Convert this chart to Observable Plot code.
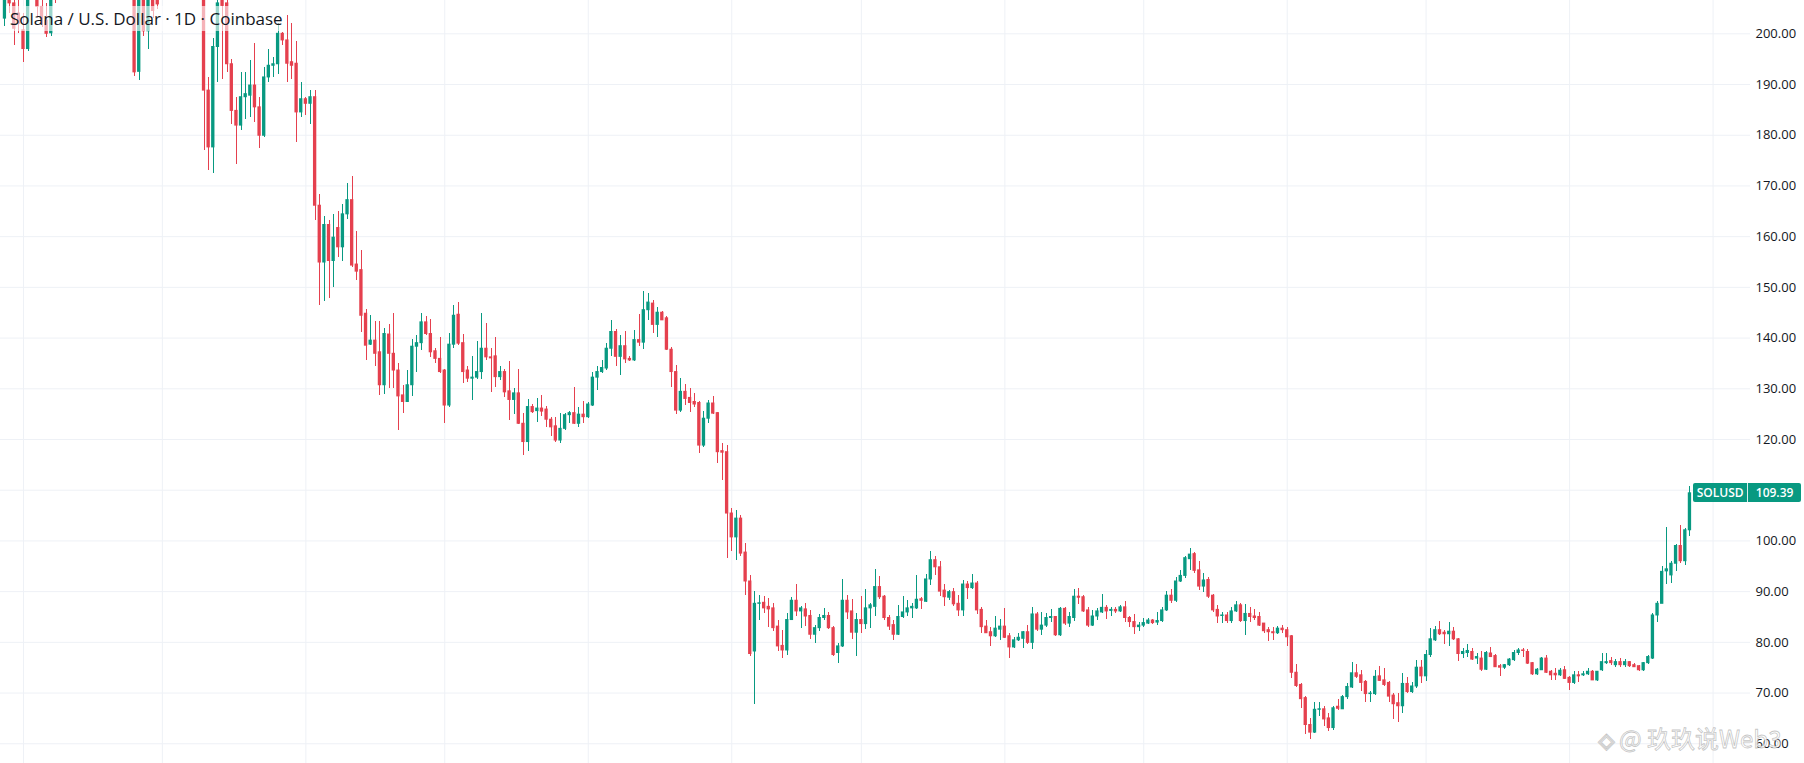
<!DOCTYPE html>
<html>
<head>
<meta charset="utf-8">
<script src="https://cdn.jsdelivr.net/npm/d3@7"></script>
<script src="https://cdn.jsdelivr.net/npm/@observablehq/plot@0.6"></script>
<style>
  html, body { margin: 0; padding: 0; background: #fff; }
  #wrap { position: relative; width: 1804px; height: 763px; overflow: hidden; }
  #title { position: absolute; left: 6px; top: 6px; padding: 0 4px; font: 17px "Open Sans", sans-serif; line-height: 25px; color: #131722; background: rgba(255,255,255,0.6); white-space: nowrap; }
  .lastbox { position: absolute; height: 19px; display: flex; font: 600 12px "Open Sans", sans-serif; color: #fff; background: #089981; border-radius: 2px; line-height: 19px; }
  .lastbox span { display: block; text-align: center; }
  .lastbox .sym { width: 54px; border-right: 1px solid rgba(255,255,255,0.85); }
  .lastbox .val { flex: 1; }
  #wm { position: absolute; left: 1598px; top: 723px; font: 24px "Noto Sans CJK SC", sans-serif; color: rgba(255,255,255,0.85); -webkit-text-stroke: 0.8px rgba(140,140,140,0.5); white-space: nowrap; line-height: 30px; }
  #wm .logo { font-family: "DejaVu Sans", sans-serif; font-size: 22px; margin-right: 4px; }
</style>
</head>
<body>
<div id="wrap"></div>
<script>
// ---- data (daily candles, first day below) ----
const startDate = "2025-08-28";
const symbol = "SOLUSD";
const titleText = "Solana / U.S. Dollar · 1D · Coinbase";
const watermarkText = "@ 玖玖说Web3";
const yTicks = [60, 70, 80, 90, 100, 110, 120, 130, 140, 150, 160, 170, 180, 190, 200];

const opens = [
  203, 208, 206, 204, 200.7, 197, 210, 212, 205.3, 202.6,
  200.1, 209, 207.5, 211, 216, 215, 222, 220, 214, 217,
  224, 229, 226, 221, 216, 218, 215, 212, 210, 192.5,
  207, 200.5, 208, 206.5, 206.8, 212, 217, 221, 225, 223,
  219, 214, 216, 213, 188.8, 177.6, 197.4, 207, 206, 194,
  184.8, 181.9, 187.5, 187.8, 189.8, 185.5, 179.9, 191.4, 193.7, 194,
  200, 198.7, 194.4, 194.1, 184.5, 187.1, 186.2, 187.5, 166.1, 154.9,
  162.3, 155.2, 161.7, 157.9, 164.4, 167.2, 154.5, 153.4, 144.8, 138.7,
  139.5, 137.2, 130.7, 140.7, 136.9, 133.6, 128.7, 127.4, 130.7, 138.3,
  139, 143.1, 140.8, 137.4, 135.9, 133.6, 126.7, 138.7, 144.6, 139,
  133.6, 132, 132.2, 133.3, 137.9, 136.2, 136.4, 132.3, 133.3, 129.5,
  127.8, 129.1, 123.1, 119.5, 126.4, 125.6, 126.1, 125.9, 123.9, 122.6,
  119.8, 122.1, 124.8, 125.2, 123.1, 124.9, 124.4, 126.7, 132.2, 133.3,
  134, 137.9, 141.2, 136.3, 138.4, 135.9, 135.6, 139.6, 139.1, 145.5,
  146.8, 142.6, 145, 143.9, 137.7, 133.3, 125.7, 129.4, 128.2, 127.4,
  127.2, 118.8, 124.1, 127.1, 125.2, 117.7, 117.5, 105.4, 100.7, 104.4,
  97.7, 92, 78.2, 87.6, 87.8, 87, 86.7, 83.1, 79.3, 78.4,
  84.4, 88.2, 86.1, 86.5, 85.2, 81.5, 82.8, 84.8, 85.2, 82.8,
  77.9, 79.2, 88.2, 86.1, 81.9, 84.4, 83.6, 86.7, 87, 90.9,
  89, 84.8, 83.4, 81.5, 85, 85.9, 86.7, 86.7, 88.5, 88,
  92.4, 96.2, 94.8, 90.2, 88.8, 89.9, 87.6, 86.3, 91.4, 90.7,
  91.6, 86.4, 83.1, 82, 81.2, 82.5, 83.1, 81.2, 79, 80.4,
  80.7, 82, 79.9, 85.5, 82.5, 83.3, 84.8, 85, 81.4, 86.6,
  83.7, 84.8, 89, 88.9, 86.3, 83.3, 85.1, 85.9, 86.8, 86.2,
  86.4, 86.1, 86.9, 84.8, 84, 83, 83.3, 83.7, 84.3, 83.9,
  84.2, 86.3, 89.2, 88.2, 92, 93.1, 96.4, 97.4, 94.2, 91,
  92.3, 89.2, 86.4, 85.2, 85.3, 84.2, 86.1, 87.3, 84.2, 85.6,
  85.1, 85, 83.7, 82.4, 82, 81.8, 82.7, 82.4, 81.2, 74,
  71.6, 69, 63.7, 62.2, 66.7, 66.8, 65, 63.1, 67.3, 66.8,
  69.2, 71.1, 73.9, 73.5, 72.2, 69.8, 69.8, 73.3, 72.5, 72,
  69.5, 68, 67.4, 71.8, 70.2, 71.3, 75, 73.3, 77.5, 80.4,
  82.4, 81.9, 81.6, 82.1, 80.6, 77.7, 77.9, 78.1, 76.8, 76.8,
  74.6, 77.8, 77.3, 75.3, 75, 75.5, 76.5, 77.9, 78.4, 78.1,
  75.9, 73.7, 74.5, 76.8, 74.2, 73.8, 73.5, 74.5, 73, 72,
  73.5, 73.5, 73.7, 74.2, 72.5, 74.5, 75.9, 76.3, 75.5, 76.1,
  75.5, 76.1, 75.5, 75.3, 74.5, 75.9, 76.8, 85.3, 87.6, 94,
  93.2, 95.5, 99, 96, 102.1
];
const highs = [
  211, 212, 209, 210, 204, 212, 216, 214, 208, 206,
  211, 210, 213, 218, 221, 224, 227, 222, 219, 226,
  232, 235, 230, 224, 220, 223, 219, 216, 215, 210,
  209, 210.5, 210, 209, 214, 219, 223, 228, 231, 226,
  222, 218, 219, 215, 191.4, 199, 209, 209, 207, 195,
  187.5, 192.4, 192.4, 194.7, 198, 187.5, 193.4, 197, 195.4, 202,
  200.3, 203.6, 202, 198.4, 190.4, 187.5, 188.8, 188.8, 168.4, 163.9,
  163.1, 164.3, 165, 166.4, 170.5, 171.8, 161.1, 157.2, 145.7, 144.4,
  143.2, 143.2, 141.8, 142.7, 144.8, 135, 130.7, 133.6, 139.8, 140.5,
  144.9, 144.2, 143.6, 138, 140.2, 133.8, 140.9, 146.4, 147, 140.8,
  134.3, 136.4, 139.4, 144.9, 142.8, 137.9, 140.2, 134.4, 133.9, 135.4,
  130, 133.9, 125.1, 127.8, 126.9, 128, 128.7, 126.5, 124.4, 124.4,
  125.1, 125.1, 125.6, 130.2, 126.4, 127.4, 127.2, 133.3, 134.3, 135.6,
  138.9, 143.5, 141.6, 140.6, 141.2, 136.3, 141.4, 144.7, 149.1, 148.8,
  147.5, 146, 145.2, 144.3, 138.1, 134.6, 132, 130.9, 130, 129,
  127.4, 125.6, 127.7, 128.4, 125.4, 119.2, 118.9, 106.4, 106, 105,
  99.5, 93.1, 90, 89.3, 89.1, 88.6, 87.6, 84.4, 82.3, 85.7,
  88.9, 91.5, 87.1, 87.7, 86.3, 83.4, 85.4, 86.7, 85.9, 83.1,
  79.8, 92.3, 89.3, 88.4, 85.7, 89, 90.5, 87.6, 94.3, 93,
  89.3, 85.2, 84.4, 87.2, 89, 88.2, 87.7, 93.1, 88.9, 93.3,
  97.9, 97, 95.9, 91.5, 90.3, 90.7, 89.2, 92.2, 92, 93.3,
  92, 86.9, 84.3, 82.9, 85, 84.6, 86.6, 81.8, 81, 81.8,
  82.2, 83.3, 86.9, 85.8, 85.9, 85.6, 86.4, 85.1, 86.8, 86.9,
  85.9, 90.5, 90.7, 89.2, 86.9, 86.3, 86.6, 89.4, 87.3, 86.9,
  86.9, 87.3, 88.1, 85.1, 85.5, 84, 84.8, 84.8, 84.6, 85.9,
  86.9, 90.1, 90.5, 92.8, 94.1, 96.9, 98.6, 97.7, 95.9, 93.6,
  92.7, 89.5, 87.3, 85.8, 85.8, 86.9, 88.1, 87.7, 87.5, 86.8,
  86.4, 85.9, 83.8, 82.9, 82.9, 83.1, 83.3, 83, 81.4, 75.7,
  71.9, 69.3, 65, 68.1, 68.1, 67.3, 65.9, 67.3, 68.8, 69.6,
  71.9, 76.1, 75.7, 74.5, 72.5, 70.3, 74.4, 75.2, 74.8, 72.2,
  69.9, 70, 73.8, 73, 72, 76.5, 76.5, 78.4, 82.7, 83.2,
  84.1, 82.4, 83.9, 82.9, 80.8, 78.8, 79.6, 78.8, 77.9, 78.1,
  78.1, 79, 77.7, 75.7, 75.7, 76.8, 78.4, 78.8, 78.8, 78.6,
  76.1, 74.8, 77.1, 77.5, 74.5, 74.8, 74.8, 75.3, 73.2, 74.2,
  74.2, 74.2, 74.8, 74.4, 74.3, 77.9, 77.9, 77, 76.6, 76.8,
  76.6, 76.3, 75.8, 75.5, 76.1, 77.4, 85.7, 88, 94.9, 102.7,
  96, 99.3, 103.1, 102.5, 110.8
];
const lows = [
  201.5, 204, 197.7, 200, 194.4, 196.6, 208, 203, 201.3, 199.3,
  199.5, 206, 207, 209.5, 213, 214, 218, 212, 210, 215,
  221, 224, 218, 214, 210, 213, 209, 208, 191.6, 190.8,
  199.5, 197, 203, 204.8, 206.7, 210, 214, 219, 220, 216,
  212, 209, 210, 176.9, 173, 172.5, 190.4, 191, 192.4, 182.2,
  174.3, 181, 183.2, 183.5, 182.5, 177.3, 179.5, 190.4, 191.4, 192,
  197.7, 190.4, 191, 178.6, 183.5, 183.8, 182.2, 163.1, 146.5, 147.2,
  147.9, 149.9, 155.8, 155.1, 163.4, 153.9, 151.3, 141.1, 135.6, 138.5,
  134.4, 128.7, 128.9, 130, 130, 121.7, 125.2, 127.2, 128.4, 133.3,
  137.5, 140.5, 136.1, 135, 133.1, 123.2, 126.4, 137.9, 138.5, 131,
  131.3, 127.7, 131.8, 131.8, 135.6, 129.2, 130.3, 131.6, 128.2, 123.8,
  125, 123, 116.9, 117.7, 125.2, 123.4, 124.5, 122.3, 120.6, 119.5,
  119.2, 121.8, 123.1, 123, 122.4, 123.2, 124.1, 126.5, 129.7, 133.1,
  133.7, 136.3, 134.4, 132.7, 135, 135.3, 135.4, 138.4, 137.7, 143.4,
  141, 140.2, 143.4, 137.5, 130.2, 124.9, 125.4, 126.7, 125.4, 126.4,
  117.2, 118.5, 123.1, 124.9, 115.2, 112, 96.6, 98, 96.2, 96.9,
  89.3, 77.3, 67.7, 84.4, 85.7, 82.9, 82.1, 78.2, 76.9, 77.5,
  84.3, 85.1, 82.8, 83.1, 80.5, 79.8, 82.1, 84.4, 82.5, 77.3,
  75.9, 78.9, 84.6, 80.6, 77.3, 81.8, 82.6, 82.8, 85, 88.4,
  84.4, 82.3, 80.4, 81.3, 84.8, 85.1, 84.8, 86.4, 86.5, 87.8,
  91.3, 93.1, 89, 87, 88.2, 87.1, 85.1, 85.1, 88.4, 90.5,
  85.5, 81.8, 81.7, 79.1, 81, 80.3, 80.7, 76.8, 78.8, 80.1,
  78.8, 79.6, 78.6, 82.2, 81.4, 83, 84, 81.2, 81.2, 83.3,
  82.9, 84.2, 87.5, 85.9, 83, 83.1, 84.4, 85.7, 84.6, 85.1,
  85.6, 85.9, 84, 83, 81.6, 82.2, 83, 83.5, 83.5, 83.3,
  84, 86, 87.6, 87.9, 91.8, 92.5, 94.2, 93.5, 90.2, 89.9,
  88.6, 85.9, 83.7, 83.7, 83.7, 83.7, 85.8, 84, 81.4, 84,
  84.3, 83.1, 81.8, 80.1, 80.3, 81.6, 81.8, 79.1, 72.9, 71.1,
  67, 61.8, 60.8, 62, 65.4, 63.5, 62.4, 62.7, 66.5, 66.7,
  68.8, 70.9, 72.9, 70.3, 68.1, 68.1, 69.6, 72.2, 71.2, 68.2,
  64.7, 64.1, 65.9, 70, 69.9, 70.9, 71.8, 72.2, 77.1, 80.1,
  81.4, 79.6, 79.2, 80.4, 76.3, 76.8, 77.1, 76.5, 75.7, 74.2,
  74.5, 77, 75, 73.3, 74.6, 75.3, 76.3, 77.5, 77.1, 75.7,
  73.5, 73.5, 74.4, 73.8, 72.4, 72.4, 73.3, 72.6, 70.5, 71.7,
  72, 73.3, 73.5, 72.4, 72.3, 74.2, 75.7, 75.5, 75, 75.1,
  75.1, 75, 75, 74.2, 74.3, 75.7, 76.6, 84, 87.6, 91.5,
  91.6, 94, 95.5, 95.2, 100.8
];
const closes = [
  208, 206, 201, 202, 197, 210, 214, 205.3, 203, 200,
  209, 207.5, 211, 216, 215, 222, 220, 214, 217, 224,
  229, 226, 221, 216, 218, 215, 212, 210, 192.4, 207,
  200.5, 208, 204.5, 205.8, 212, 217, 221, 225, 223, 219,
  214, 216, 213, 188.8, 177.6, 197.4, 206, 205.5, 194, 184.8,
  181.9, 187.5, 188.1, 189.8, 185.5, 179.9, 191.4, 193.7, 194, 200,
  198.7, 194.1, 193.7, 184.5, 187.1, 186.2, 187.5, 166.1, 154.9, 162.3,
  155.2, 159.8, 157.9, 164.4, 167.2, 154.3, 153.1, 144.4, 138.5, 139.5,
  136.9, 130.7, 140.8, 136.9, 133.6, 128.5, 127.4, 130.7, 138.3, 139,
  143.1, 140.8, 137.2, 135.9, 133.3, 126.7, 138.7, 144.4, 138.9, 133.3,
  132, 132.2, 133.3, 137.9, 136.2, 136, 132.3, 133.3, 129.3, 127.8,
  129.1, 123.1, 119.5, 126.4, 125.4, 126.1, 125.5, 123.9, 122.4, 119.8,
  122.1, 124.8, 125.2, 123.1, 124.9, 124.4, 126.9, 132.2, 133.3, 134.1,
  137.9, 141.2, 136.3, 138.4, 135.8, 135.6, 139.6, 139.1, 145.5, 147,
  142.6, 145, 143.5, 137.7, 133.3, 125.7, 129.4, 128, 127.2, 126.9,
  118.8, 124.1, 127.1, 125.1, 117.5, 117.4, 105.4, 100.7, 104.4, 97.5,
  92, 77.7, 87.6, 87.7, 86.7, 86.5, 82.8, 79.2, 78.4, 84.4,
  88.2, 86.1, 86.7, 85.1, 81.5, 82.8, 84.8, 85.2, 82.8, 77.5,
  79.2, 88.2, 85.9, 81.9, 84.4, 83.6, 86.7, 87.3, 90.9, 88.9,
  84.8, 83.1, 81.5, 85, 85.9, 86.7, 87, 88.4, 88.2, 92.4,
  96.2, 94.8, 90, 88.9, 89.9, 87.5, 86.3, 91.4, 90.7, 91.6,
  86.3, 83, 81.8, 81.2, 82.7, 83.1, 80.9, 79, 80.4, 80.9,
  82, 79.9, 85.5, 82.5, 83.3, 84.8, 85, 81.4, 86.6, 83.7,
  85, 89, 88.8, 86.1, 83.3, 85.1, 86.1, 86.8, 86.1, 86.4,
  86.1, 86.9, 84.8, 84, 83, 83.3, 83.8, 84.3, 83.8, 84.2,
  86.3, 89.2, 88.2, 92, 93.1, 96.6, 97.3, 94.1, 91, 92.2,
  89, 86.3, 85.1, 85.3, 84.2, 86.1, 87.3, 84.2, 85.6, 85,
  84.8, 83.3, 82.2, 82, 81.8, 82.7, 82.4, 81, 74, 71.4,
  68.8, 63.7, 62.2, 66.7, 66.8, 64.8, 63.1, 67, 66.9, 69.2,
  71.2, 73.9, 73.2, 72, 69.8, 69.9, 73.2, 72.4, 71.6, 69.3,
  67.8, 67.4, 71.8, 70.2, 71.3, 75, 73.3, 77.5, 80.6, 82.4,
  81.6, 81.6, 82.1, 80.6, 77.7, 78.1, 78.3, 76.6, 77.1, 74.6,
  77.9, 77.1, 75.1, 75, 75.5, 76.6, 77.9, 78.4, 78.3, 75.8,
  73.7, 74.6, 76.8, 74, 73.5, 73.5, 74.4, 72.8, 72, 73.5,
  73.3, 73.7, 74.2, 72.5, 74.2, 76.1, 76.1, 75.9, 76.1, 75.5,
  76.1, 75.3, 75.1, 74.5, 75.9, 77.1, 85.3, 87.6, 93.9, 94.4,
  95.5, 99, 96, 102.1, 109.39
];

// ---- build ----
const upColor = "#089981";
const downColor = "#e5404e";
const gridColor = "#eef1f6";
const DAY = 864e5;

const t0 = new Date(startDate + "T00:00:00Z");
const candles = closes.map((c, i) => ({
  date: d3.utcDay.offset(t0, i),
  open: opens[i], high: highs[i], low: lows[i], close: c,
  up: c >= opens[i]
}));
const last = candles[candles.length - 1];

// price-scale labels: the one hidden behind the last-price tag is not drawn
const axisTicks = yTicks.filter(v => Math.abs(v - last.close) > 4);

// visible time window (pane), in days relative to first candle
const xStart = new Date(+t0 - 0.968 * DAY);
const xEnd = new Date(+t0 + 377.08 * DAY);
const monthTicks = d3.utcMonths(xStart, xEnd);

const bodyHalf = 0.36 * DAY;
const bodyOpts = (isUp) => ({
  filter: d => d.up === isUp,
  x1: d => new Date(+d.date - bodyHalf),
  x2: d => new Date(+d.date + bodyHalf),
  y1: d => Math.min(d.open, d.close),
  y2: d => Math.max(d.open, d.close),
  insetTop: -0.5, insetBottom: -0.5,
  fill: isUp ? upColor : downColor,
  clip: true
});
const wickOpts = (isUp) => ({
  filter: d => d.up === isUp,
  x: "date", y1: "low", y2: "high",
  stroke: isUp ? upColor : downColor,
  strokeWidth: 1,
  shapeRendering: "crispEdges",
  clip: true
});

const plot = Plot.plot({
  width: 1804,
  height: 763,
  marginLeft: 0,
  marginRight: 54,
  marginTop: 0,
  marginBottom: 0,
  style: { fontFamily: '"Open Sans", sans-serif', fontSize: "13px", color: "#131722", background: "#ffffff", overflow: "hidden" },
  x: { type: "utc", domain: [xStart, xEnd], axis: null },
  y: { domain: [56.11, 206.57], axis: null },
  marks: [
    Plot.gridY(yTicks, { stroke: gridColor, strokeOpacity: 1 }),
    Plot.gridX(monthTicks, { stroke: gridColor, strokeOpacity: 1 }),
    Plot.ruleX(candles, wickOpts(true)),
    Plot.ruleX(candles, wickOpts(false)),
    Plot.rect(candles, bodyOpts(true)),
    Plot.rect(candles, bodyOpts(false)),
    Plot.axisY(axisTicks, {
      anchor: "right", tickSize: 0, tickPadding: 5,
      tickFormat: d => d.toFixed(2), label: null,
      fontSize: 13, fill: "#131722"
    })
  ]
});

const wrap = document.getElementById("wrap");
wrap.appendChild(plot);

// title legend (overlaid on pane, top-left)
const title = document.createElement("div");
title.id = "title";
title.textContent = titleText;
wrap.appendChild(title);

// last price label, positioned with the plot's own scales
const xs = plot.scale("x"), ys = plot.scale("y");
const box = document.createElement("div");
box.className = "lastbox";
const bx = xs.apply(last.date) + 3.7;
const by = ys.apply(last.close);
box.style.left = bx + "px";
box.style.top = (by - 9.5) + "px";
box.style.width = (1801 - bx) + "px";
box.innerHTML = `<span class="sym">${symbol}</span><span class="val">${last.close.toFixed(2)}</span>`;
wrap.appendChild(box);

// watermark
const wm = document.createElement("div");
wm.id = "wm";
wm.innerHTML = `<span class="logo">◈</span>${watermarkText}`;
wrap.appendChild(wm);
</script>
</body>
</html>
